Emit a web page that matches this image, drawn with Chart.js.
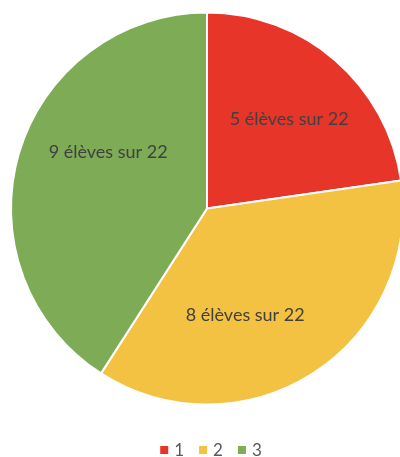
<!DOCTYPE html>
<html>
<head>
<meta charset="utf-8">
<script src="https://cdn.jsdelivr.net/npm/chart.js@4"></script>
<style>
  html, body { margin: 0; padding: 0; background: #fff; overflow: hidden; }
  #wrap { width: 414px; height: 457px; }
</style>
</head>
<body>
<div id="wrap"><canvas id="pieChart" width="414" height="457"></canvas></div>
<script>
// données du graphique
const categories = ['1', '2', '3'];
const eleves = [5, 8, 9];
const totalEleves = 22;
const couleurs = ['#E8352A', '#F4C242', '#7EAB55'];

// étiquettes dans les parts
const sliceLabels = {
    id: 'sliceLabels',
    afterDatasetsDraw(chart, args, opts) {
        const ctx = chart.ctx;
        const meta = chart.getDatasetMeta(0);
        ctx.save();
        ctx.font = opts.font;
        ctx.fillStyle = opts.color;
        ctx.textAlign = 'center';
        ctx.textBaseline = 'middle';
        meta.data.forEach((arc, i) => {
            const p = arc.getProps(['x', 'y', 'startAngle', 'endAngle', 'outerRadius'], true);
            const a = p.startAngle + opts.angleFrac[i] * (p.endAngle - p.startAngle);
            const r = p.outerRadius * opts.radiusFrac[i];
            const txt = eleves[i] + ' élèves sur ' + totalEleves;
            ctx.fillText(txt, p.x + Math.cos(a) * r, p.y + Math.sin(a) * r);
        });
        ctx.restore();
    }
};

// légende dessinée sous le graphique
const bottomLegend = {
    id: 'bottomLegend',
    afterDraw(chart, args, opts) {
        const ctx = chart.ctx;
        ctx.save();
        ctx.font = opts.font;
        ctx.textBaseline = 'middle';
        const box = 8, gap = 6, spacing = 15;
        const widths = categories.map(c => box + gap + ctx.measureText(c).width);
        const total = widths.reduce((s, w) => s + w, 0) + spacing * (categories.length - 1);
        let x = opts.centerX - total / 2;
        const y = opts.y;
        categories.forEach((c, i) => {
            ctx.fillStyle = couleurs[i];
            ctx.fillRect(x, y - box / 2, box, box);
            ctx.fillStyle = opts.color;
            ctx.fillText(c, x + box + gap, y + 1);
            x += widths[i] + spacing;
        });
        ctx.restore();
    }
};

new Chart(document.getElementById('pieChart'), {
    type: 'pie',
    data: {
        labels: categories,
        datasets: [{
            data: eleves,
            backgroundColor: couleurs,
            borderColor: '#ffffff',
            borderWidth: 2
        }]
    },
    options: {
        responsive: false,
        animation: false,
        layout: {
            padding: { left: 10, right: 10, top: 11, bottom: 51 }
        },
        plugins: {
            legend: { display: false },
            tooltip: { enabled: false },
            sliceLabels: {
                font: '18px Lato',
                color: '#404040',
                angleFrac: [0.52, 0.6, 0.59],
                radiusFrac: [0.62, 0.58, 0.58]
            },
            bottomLegend: {
                font: '17px Lato',
                color: '#595959',
                centerX: 211,
                y: 450
            }
        }
    },
    plugins: [sliceLabels, bottomLegend]
});
</script>
</body>
</html>
